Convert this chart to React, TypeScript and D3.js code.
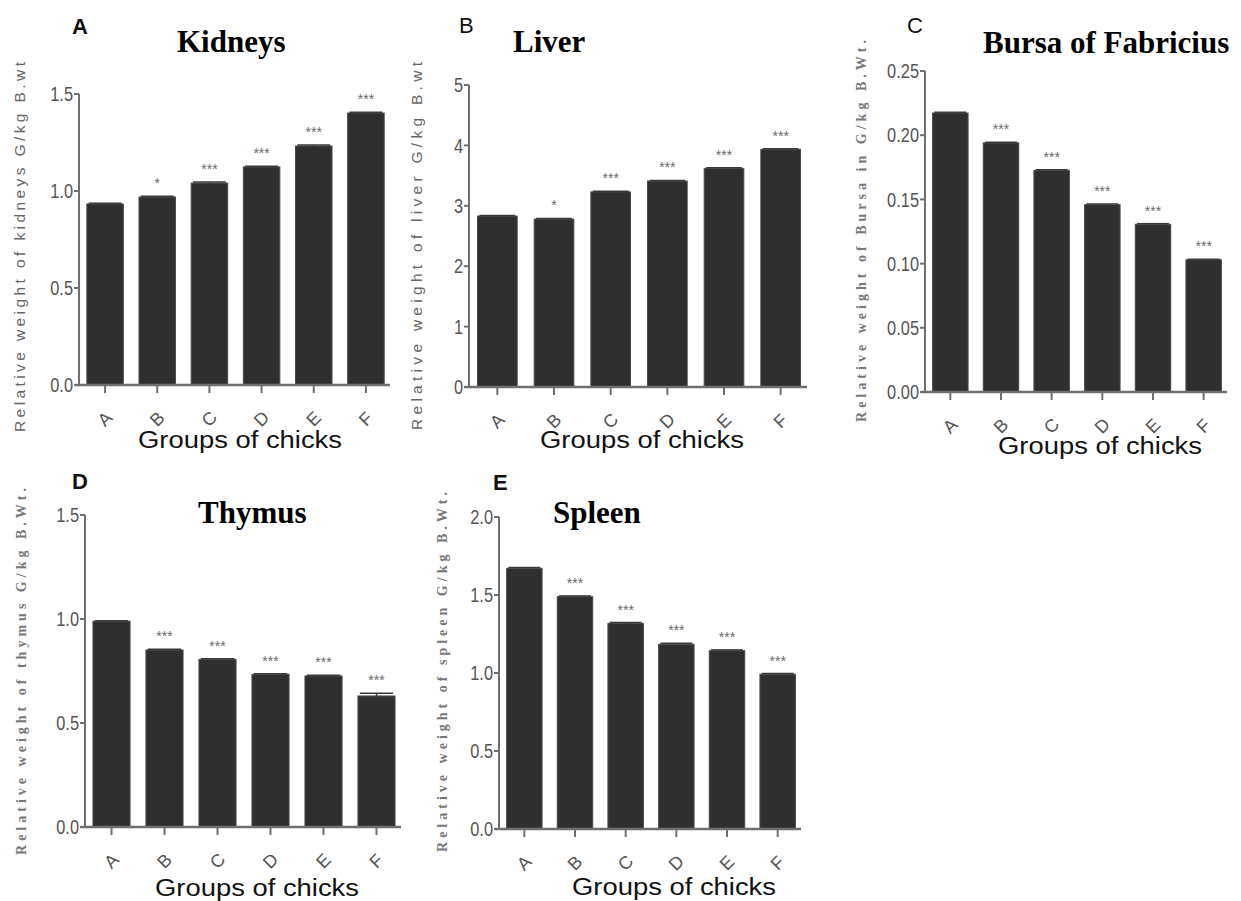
import React from "react";
import * as d3 from "d3";

// groups on the x axis (same for every panel)
const groups = ["A", "B", "C", "D", "E", "F"];

// relative organ weights, G/kg body weight
const kidneys = [0.933, 0.969, 1.041, 1.124, 1.232, 1.402];
const liver = [2.83, 2.78, 3.23, 3.41, 3.62, 3.935];
const bursa = [0.2173, 0.194, 0.1726, 0.1459, 0.1306, 0.103];
const thymus = [0.989, 0.851, 0.806, 0.734, 0.726, 0.63];
const spleen = [1.671, 1.489, 1.318, 1.184, 1.143, 0.992];

// SEM (tiny caps on top of the bars)
const kidneysErr = [0.004, 0.004, 0.005, 0.004, 0.005, 0.004];
const liverErr = [0.01, 0.01, 0.01, 0.01, 0.012, 0.01];
const bursaErr = [0.0006, 0.0005, 0.0005, 0.0005, 0.0005, 0.0004];
const thymusErr = [0.003, 0.004, 0.003, 0.003, 0.003, 0.013];
const spleenErr = [0.006, 0.005, 0.005, 0.006, 0.005, 0.004];

// significance marks vs group A
const kidneysSig = ["", "*", "***", "***", "***", "***"];
const liverSig = ["", "*", "***", "***", "***", "***"];
const bursaSig = ["", "***", "***", "***", "***", "***"];
const thymusSig = ["", "***", "***", "***", "***", "***"];
const spleenSig = ["", "***", "***", "***", "***", "***"];

// y tick values
const kidneysTicks = [0, 0.5, 1.0, 1.5];
const liverTicks = [0, 1, 2, 3, 4, 5];
const bursaTicks = [0, 0.05, 0.1, 0.15, 0.2, 0.25];
const thymusTicks = [0, 0.5, 1.0, 1.5];
const spleenTicks = [0, 0.5, 1.0, 1.5, 2.0];

const xTitle = "Groups of chicks";

const panels = [
  {
    letter: "A", letterX: 72, letterY: 34, letterBold: true,
    title: "Kidneys", titleX: 177, titleY: 52,
    values: kidneys, errors: kidneysErr, sig: kidneysSig, ticks: kidneysTicks, fmt: ".1f",
    x0: 79, x1: 392, yTop: 94, yBottom: 385,
    ylabel: "Relative weight of kidneys G/kg B.wt", ylabelX: 19, ylabelTop: 62, ylabelBottom: 432, serif: false,
    xTitleX: 240, xTitleY: 448,
  },
  {
    letter: "B", letterX: 459, letterY: 33, letterBold: false,
    title: "Liver", titleX: 513, titleY: 52,
    values: liver, errors: liverErr, sig: liverSig, ticks: liverTicks, fmt: "d",
    x0: 469, x1: 809, yTop: 85, yBottom: 387,
    ylabel: "Relative weight of liver G/kg B.wt", ylabelX: 416, ylabelTop: 62, ylabelBottom: 430, serif: false,
    xTitleX: 642, xTitleY: 448,
  },
  {
    letter: "C", letterX: 907, letterY: 33, letterBold: false,
    title: "Bursa of Fabricius", titleX: 983, titleY: 53,
    values: bursa, errors: bursaErr, sig: bursaSig, ticks: bursaTicks, fmt: ".2f",
    x0: 925, x1: 1229, yTop: 71, yBottom: 392,
    ylabel: "Relative weight of Bursa in G/kg B.Wt.", ylabelX: 861, ylabelTop: 40, ylabelBottom: 422, serif: true,
    xTitleX: 1100, xTitleY: 454,
  },
  {
    letter: "D", letterX: 72, letterY: 489, letterBold: true,
    title: "Thymus", titleX: 198, titleY: 523,
    values: thymus, errors: thymusErr, sig: thymusSig, ticks: thymusTicks, fmt: ".1f",
    x0: 85, x1: 403, yTop: 515, yBottom: 827,
    ylabel: "Relative weight of  thymus G/kg B.Wt.", ylabelX: 21, ylabelTop: 488, ylabelBottom: 855, serif: true,
    xTitleX: 257, xTitleY: 896,
  },
  {
    letter: "E", letterX: 493, letterY: 490, letterBold: true,
    title: "Spleen", titleX: 553, titleY: 523,
    values: spleen, errors: spleenErr, sig: spleenSig, ticks: spleenTicks, fmt: ".1f",
    x0: 499, x1: 803, yTop: 517, yBottom: 829,
    ylabel: "Relative weight of  spleen G/kg B.Wt.", ylabelX: 442, ylabelTop: 492, ylabelBottom: 852, serif: true,
    xTitleX: 674, xTitleY: 895,
  },
];

const axisColor = "#6f6f6f";
const tickText = "#555";
const barFill = "#2f2f2f";
const sans = "Liberation Sans, Arial, sans-serif";
const serif = "Liberation Serif, Times New Roman, serif";

function Panel({ p }) {
  const x = d3.scaleBand().domain(groups).range([p.x0, p.x1]).paddingInner(0.3).paddingOuter(0.15);
  const yMax = p.ticks[p.ticks.length - 1];
  const y = d3.scaleLinear().domain([0, yMax]).range([p.yBottom, p.yTop]);
  const fmt = d3.format(p.fmt);
  const bw = x.bandwidth();
  const axisEnd = p.x1 - 2;
  const ylabelMid = (p.ylabelTop + p.ylabelBottom) / 2;

  return (
    <g>
      <text x={p.letterX} y={p.letterY} fontFamily={sans}
        fontSize={22} fontWeight={p.letterBold ? 700 : 400} fill="#111">{p.letter}</text>
      <text x={p.titleX} y={p.titleY} fontFamily={serif}
        fontSize={31} fontWeight={700} fill="#000">{p.title}</text>

      {/* y label */}
      <text transform={`translate(${p.ylabelX},${ylabelMid}) rotate(-90)`} textAnchor="middle"
        dominantBaseline="central"
        fontFamily={p.serif ? serif : sans}
        fontWeight={p.serif ? 700 : 400} fontSize={p.serif ? 14 : 15.5} fill={p.serif ? "#777" : "#666"}
        textLength={p.ylabelBottom - p.ylabelTop} lengthAdjust="spacing">{p.ylabel}</text>

      {/* bars */}
      {p.values.map((v, i) => (
        <rect key={groups[i]} x={x(groups[i])} y={y(v)} width={bw} height={p.yBottom - y(v)}
          fill={barFill} stroke="#4a4a4a" strokeWidth={1} />
      ))}
      {/* error caps */}
      {p.values.map((v, i) => {
        const cx = x(groups[i]) + bw / 2;
        return (
          <g key={"e" + i} stroke="#3a3a3a" strokeWidth={1.5}>
            <line x1={cx} x2={cx} y1={y(v)} y2={y(v + p.errors[i])} />
            <line x1={cx - bw * 0.45} x2={cx + bw * 0.45} y1={y(v + p.errors[i])} y2={y(v + p.errors[i])} />
          </g>
        );
      })}
      {/* significance */}
      {p.values.map((v, i) => p.sig[i] ? (
        <text key={"s" + i} x={x(groups[i]) + bw / 2} y={y(v + p.errors[i]) - 8} textAnchor="middle"
          fontFamily={sans} fontSize={14} letterSpacing={0} fill="#6a6a6a">{p.sig[i]}</text>
      ) : null)}

      {/* y axis */}
      <line x1={p.x0} x2={p.x0} y1={p.yTop} y2={p.yBottom + 1} stroke={axisColor} strokeWidth={2} />
      {p.ticks.map((t) => (
        <g key={"t" + t}>
          <line x1={p.x0 - 5} x2={p.x0} y1={y(t)} y2={y(t)} stroke={axisColor} strokeWidth={2} />
          <text transform={`translate(${p.x0 - 6},${y(t)}) scale(0.78,1)`} textAnchor="end"
            dominantBaseline="central" fontFamily={sans} fontSize={21} fill={tickText}>{fmt(t)}</text>
        </g>
      ))}

      {/* x axis */}
      <line x1={p.x0 - 4} x2={axisEnd} y1={p.yBottom} y2={p.yBottom} stroke={axisColor} strokeWidth={2.5} />
      {groups.map((g) => {
        const cx = x(g) + bw / 2;
        return (
          <g key={"x" + g}>
            <line x1={cx} x2={cx} y1={p.yBottom} y2={p.yBottom + 8} stroke={axisColor} strokeWidth={2} />
            <text transform={`translate(${cx},${p.yBottom + 34}) rotate(-45)`} textAnchor="middle"
              dominantBaseline="central" fontFamily={sans} fontSize={18}
              fill={tickText}>{g}</text>
          </g>
        );
      })}
      <text x={p.xTitleX} y={p.xTitleY} textAnchor="middle" fontFamily={sans}
        fontSize={23} fill="#111" textLength={204} lengthAdjust="spacingAndGlyphs">{xTitle}</text>
    </g>
  );
}

export default function App() {
  return (
    <svg width={1241} height={901} viewBox="0 0 1241 901"
      style={{ position: "absolute", left: 0, top: 0, background: "#fff", display: "block" }}>
      <rect width={1241} height={901} fill="#fff" />
      {panels.map((p) => <Panel key={p.letter} p={p} />)}
    </svg>
  );
}
